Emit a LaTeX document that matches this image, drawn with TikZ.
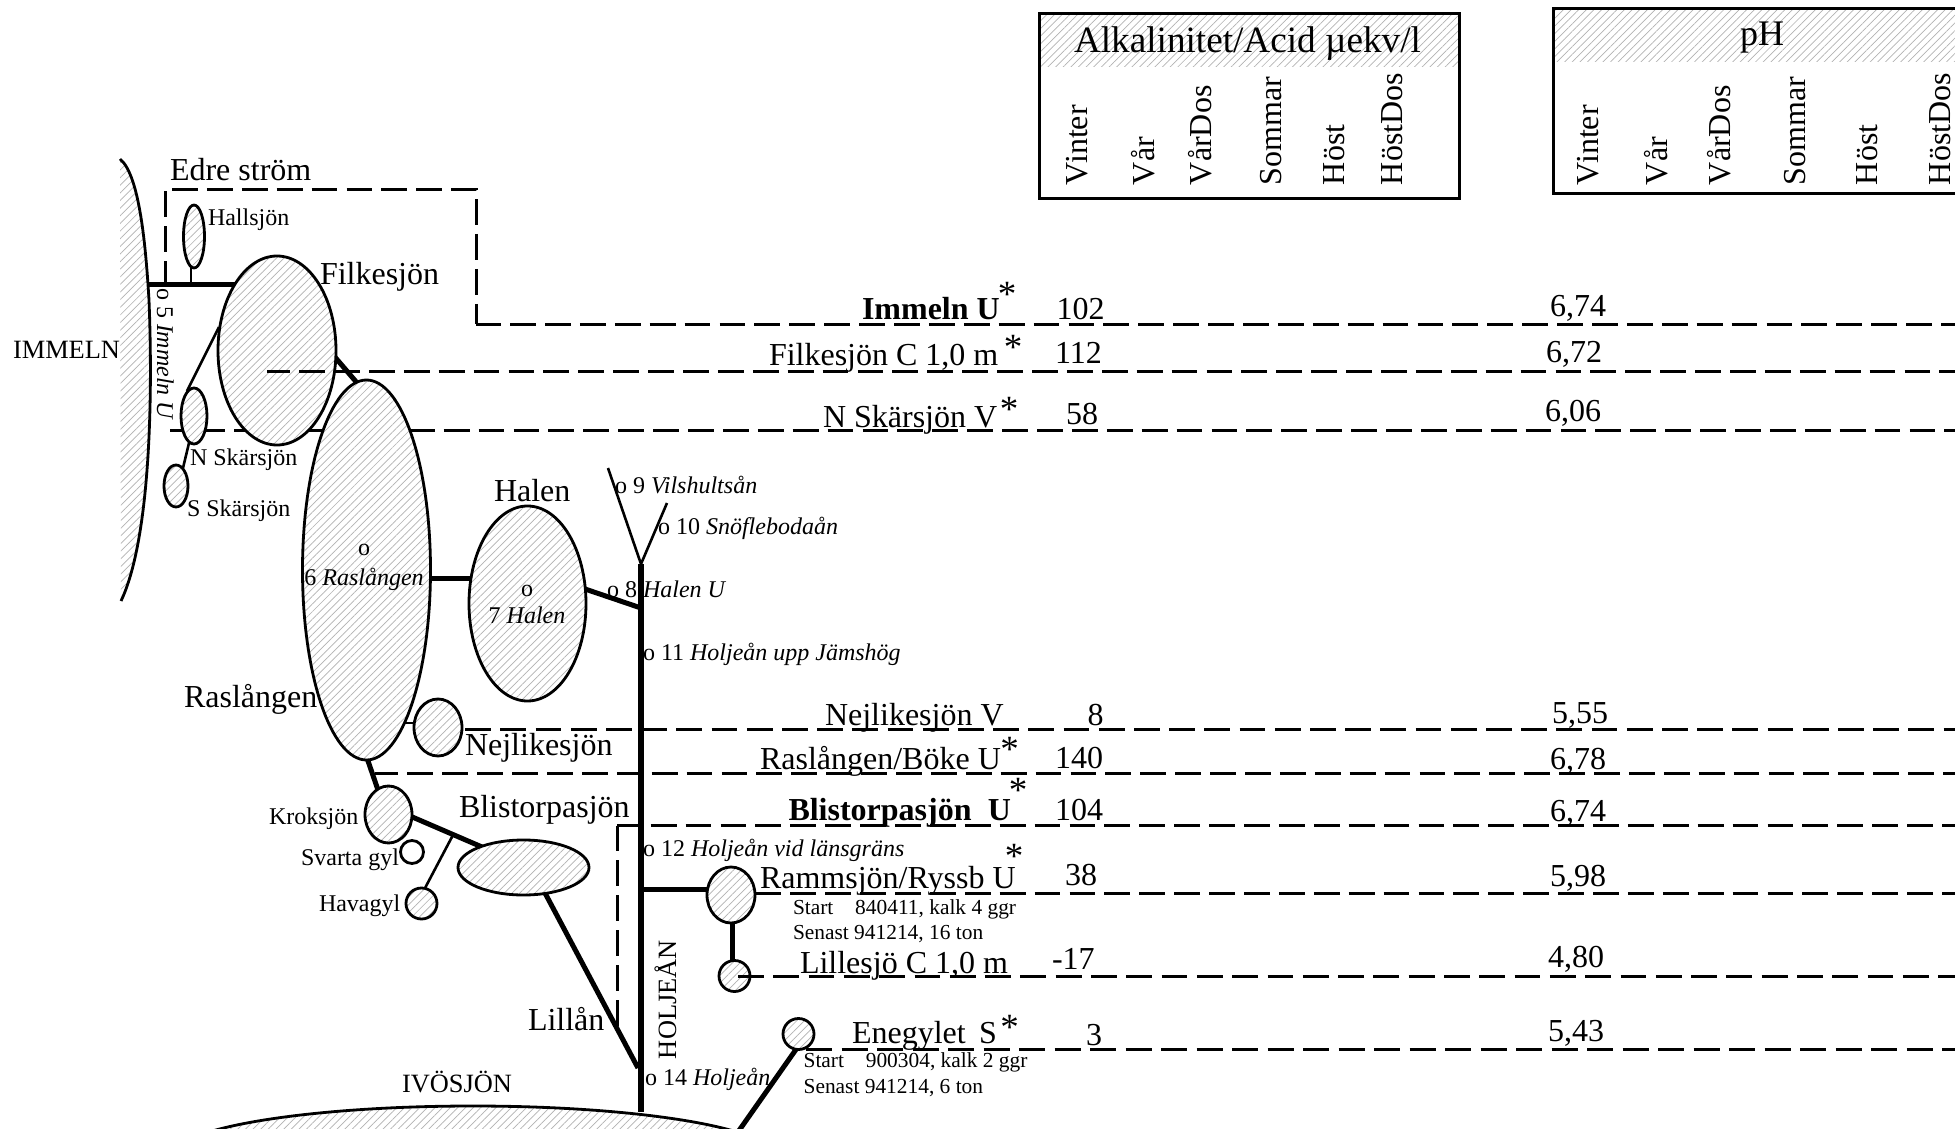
\documentclass[tikz,border=0pt]{standalone}
\usepackage{fontspec}
\setmainfont{Liberation Serif}
\usetikzlibrary{patterns.meta,shapes.geometric}
\newcommand{\fsz}[1]{\fontsize{#1}{#1}\selectfont}
\tikzset{
  x=0.5pt,y=-0.5pt,
  hatchfill/.style={pattern={Lines[angle=45,distance=2.7pt,line width=0.35pt,xshift=0.6pt]},pattern color=black!30},
  hatch/.style={preaction={fill=white},hatchfill},
  lake/.style={ellipse,draw,hatch,line width=1.4pt,inner sep=0pt,outer sep=0pt},
  thin line/.style={line width=1.3pt},
  thick line/.style={line width=2.5pt},
  river/.style={line width=2.6pt},
  dash line/.style={line width=1.5pt,dash pattern=on 12.9pt off 4.55pt},
  txt/.style={inner sep=0pt,outer sep=0pt,anchor=base west},
  big/.style={txt,font=\fsz{16}},
  mid/.style={txt,font=\fsz{13.2}},
  small/.style={txt,font=\fsz{12}},
  tiny/.style={txt,font=\fsz{10.7}},
  head/.style={txt,font=\fsz{16},rotate=90},
  star/.style={inner sep=0pt,outer sep=0pt,anchor=center,yshift=-2.4pt,font=\fsz{18.5}},
  frame/.style={line width=1.5pt}
}
% centre x, centre y, half width, half height (in reference pixels)
\newcommand{\lake}[5]{\node[lake,minimum width=#4pt,minimum height=#5pt] (#1) at (#2,#3) {};}
\newcommand{\starat}[3]{\node[star] (#1) at (#2,#3) {*};}
\begin{document}
\begin{tikzpicture}
\useasboundingbox (0,0) rectangle (1955,1129);
\begin{scope}
\clip (0,0) rectangle (1955,1129);

% header boxes
\fill[hatchfill] (1039,14) rectangle (1459,67);
\draw[frame] (1039,14) rectangle (1459,198);
\fill[hatchfill] (1553,9) rectangle (1965,62);
\draw[frame] (1965,9) -- (1553,9) -- (1553,193) -- (1965,193);

% free ends and junctions of the lines
\coordinate (e1a) at (165,283); \coordinate (e1b) at (165,189); \coordinate (e1c) at (476,189);
\coordinate (e1d) at (476,324); \coordinate (e1e) at (1965,324);
\coordinate (e3a) at (170,430); \coordinate (e3b) at (1965,430);
\coordinate (e4a) at (462,729); \coordinate (e4b) at (1965,729);
\coordinate (e5a) at (375,773.5); \coordinate (e5b) at (1965,773.5);
\coordinate (e6a) at (617,1028); \coordinate (e6b) at (617,825.5); \coordinate (e6c) at (1965,825.5);
\coordinate (e7a) at (755,893.5); \coordinate (e7b) at (1965,893.5);
\coordinate (e9a) at (803,1049.5); \coordinate (e9b) at (1965,1049.5);

% dashed lines that lie under the lakes
\draw[dash line,dash phase=1.85pt] (e1a) -- (e1b) -- (e1c) -- (e1d);
\draw[dash line,dash phase=0.4pt] (e1d) -- (e1e);
\draw[dash line,dash phase=2.75pt] (e3a) -- (e3b);
\draw[dash line,dash pattern=on 12.9pt off 4.7pt,dash phase=16pt] (e4a) -- (e4b);
\draw[dash line,dash phase=1.25pt] (e5a) -- (e5b);
\draw[dash line] (e6b) -- (e6a);
\draw[dash line,dash phase=0.6pt] (e6b) -- (e6c);
\draw[dash line,dash phase=17.25pt] (e7a) -- (e7b);
\draw[dash line,dash pattern=on 12.9pt off 4.85pt,dash phase=16.15pt] (e9a) -- (e9b);

% Immeln shore
\path[hatch] (120,159) .. controls (140,175) and (146,250) .. (149,300) .. controls (153,400) and (150,540) .. (121,601) -- cycle;
\draw[line width=1.4pt] (120,159) .. controls (140,175) and (146,250) .. (149,300) .. controls (153,400) and (150,540) .. (121,601);

% Ivosjon
\node[lake,minimum width=301pt,minimum height=50pt] (ivo) at (473,1156) {};

% connector ends
\coordinate (s1) at (148,284); \coordinate (s2) at (235,284);
\coordinate (h1) at (191,268); \coordinate (h2) at (191,284);
\coordinate (f1) at (219,327); \coordinate (n1) at (187,391);
\coordinate (n2) at (189,443); \coordinate (n3) at (183,468);
\coordinate (f2) at (334,356); \coordinate (r1) at (358,384);
\coordinate (r2) at (428,578); \coordinate (ha1) at (470,578);
\coordinate (ha2) at (585,589); \coordinate (j8) at (641,608);
\coordinate (r3) at (367,758); \coordinate (k1) at (378,790);
\coordinate (k2) at (410,816); \coordinate (b1) at (482,847);
\coordinate (mid) at (453,835); \coordinate (hv) at (424,890);
\coordinate (b2) at (545,893); \coordinate (j14) at (638,1068);
\coordinate (j9) at (641,564); \coordinate (b9) at (608,468); \coordinate (b10) at (667,503);
\coordinate (rb) at (641,1112);
\coordinate (j12) at (641,889); \coordinate (ra1) at (709,889);
\coordinate (ra2) at (732,921); \coordinate (li1) at (732,963);
\coordinate (en1) at (797,1048); \coordinate (iv1) at (738,1132);
\coordinate (r4) at (403,723); \coordinate (ne1) at (416,723);

% connectors
\draw[thick line] (s1) -- (s2);
\draw[thin line] (h1) -- (h2);
\draw[thin line] (f1) -- (n1);
\draw[thin line] (n2) -- (n3);
\draw[thick line] (f2) -- (r1);
\draw[thick line] (r2) -- (ha1);
\draw[thick line] (ha2) -- (j8);
\draw[thick line] (r3) -- (k1);
\draw[thick line] (k2) -- (b1);
\draw[thin line] (mid) -- (hv);
\draw[thick line] (b2) -- (j14);
\draw[thin line] (b9) -- (j9) -- (b10);
\draw[river] (j9) -- (rb);
\draw[thick line] (j12) -- (ra1);
\draw[thick line] (ra2) -- (li1);
\draw[thick line] (en1) -- (iv1);
\draw[thin line] (r4) -- (ne1);

% lakes
\lake{hall}{194}{236.5}{10.5}{31.5}
\lake{fil}{277}{350.5}{59}{94.5}
\lake{nsk}{194}{416}{13}{28}
\lake{ssk}{176}{486}{12}{21}
\lake{ras}{366.5}{570}{64}{190}
\lake{hal}{527.5}{603.5}{58.5}{97.5}
\lake{nej}{438}{727.5}{24}{28.5}
\lake{kro}{388.5}{814.5}{23.5}{28.5}
\lake{hav}{421.5}{903.5}{15.5}{15.5}
\node[ellipse,draw,line width=1.4pt,fill=white,inner sep=0pt,minimum width=11.5pt,minimum height=11.5pt] (sva) at (412,852) {};
\lake{bli}{523.5}{867.5}{65.5}{27.5}
\lake{ram}{731}{895}{24}{28}
\lake{lil}{734.5}{976}{15.5}{15.5}
\lake{ene}{798.5}{1034}{15.5}{15.5}

% dashed lines that lie over the lakes
\coordinate (e2a) at (267,371); \coordinate (e2b) at (1965,371);
\coordinate (e8a) at (738,976); \coordinate (e8b) at (1965,976);
\draw[dash line,dash phase=1.4pt] (e2a) -- (e2b);
\draw[dash line,dash pattern=on 12.9pt off 4.75pt] (e8a) -- (e8b);

% headers
\node[txt,font=\fsz{18.6}] (t1) at (1074,53) {Alkalinitet/Acid µekv/l};
\node[txt,font=\fsz{18}] (t2) at (1740,46) {pH};
\node[head] (a1) at (1087,185) {Vinter};
\node[head] (a2) at (1154,185) {Vår};
\node[head] (a3) at (1211,185) {VårDos};
\node[head] (a4) at (1281,185) {Sommar};
\node[head] (a5) at (1344,185) {Höst};
\node[head] (a6) at (1402,185) {HöstDos};
\node[head] (p1) at (1598,185) {Vinter};
\node[head] (p2) at (1667,185) {Vår};
\node[head] (p3) at (1730,185) {VårDos};
\node[head] (p4) at (1805,185) {Sommar};
\node[head] (p5) at (1877,185) {Höst};
\node[head] (p6) at (1950,185) {HöstDos};

% lake names
\node[big] (l1) at (170,180) {Edre ström};
\node[small] (l2) at (208,225) {Hallsjön};
\node[big] (l3) at (320,284) {Filkesjön};
\node[mid] (l4) at (13,358) {IMMELN};
\node[small,rotate=-90] (l5) at (157,288) {o 5 \textit{Immeln U}};
\node[small] (l6) at (190,465) {N Skärsjön};
\node[small] (l7) at (187,516) {S Skärsjön};
\node[big] (l8) at (494,501) {Halen};
\node[small] (l9) at (615,493) {o 9 \textit{Vilshultsån}};
\node[small] (l10) at (658,534) {o 10 \textit{Snöflebodaån}};
\node[small] (l11) at (607,597) {o 8 \textit{Halen U}};
\node[small] (l12) at (643,660) {o 11 \textit{Holjeån upp Jämshög}};
\node[small,anchor=base] (l13) at (364,555) {o};
\node[small,anchor=base] (l14) at (364,585) {6 \textit{Raslången}};
\node[small,anchor=base] (l15) at (527,596) {o};
\node[small,anchor=base] (l16) at (527,623) {7 \textit{Halen}};
\node[big] (l17) at (184,707) {Raslången};
\node[big] (l18) at (465,755) {Nejlikesjön};
\node[small] (l19) at (269,824) {Kroksjön};
\node[small] (l20) at (301,865) {Svarta gyl};
\node[small] (l21) at (319,911) {Havagyl};
\node[big] (l22) at (459,817) {Blistorpasjön};
\node[big] (l23) at (528,1030) {Lillån};
\node[mid] (l24) at (402,1092) {IVÖSJÖN};
\node[small] (l25) at (643,856) {o 12 \textit{Holjeån vid länsgräns}};
\node[small] (l26) at (645,1085) {o 14 \textit{Holjeån}};
\node[mid,rotate=90] (l27) at (676,1059) {HOLJEÅN};

% station rows
\node[big,font=\fsz{16}\bfseries] (s01) at (862,319) {Immeln U};
\starat{x01}{1007}{290}
\node[big] (v01) at (1056.5,319) {102};
\node[big] (q01) at (1550,316.5) {6,74};
\node[big] (s02) at (769,365) {Filkesjön C 1,0 m};
\starat{x02}{1013}{343}
\node[big] (v02) at (1055,363) {112};
\node[big] (q02) at (1546,362) {6,72};
\node[big] (s03) at (823,427) {N Skärsjön V};
\starat{x03}{1009}{405}
\node[big] (v03) at (1066,424) {58};
\node[big] (q03) at (1545,421) {6,06};
\node[big] (s04) at (825,725) {Nejlikesjön V};
\node[big] (v04) at (1087.5,725) {8};
\node[big] (q04) at (1552,723) {5,55};
\node[big] (s05) at (760,769) {Raslången/Böke U};
\starat{x05}{1009.5}{745}
\node[big] (v05) at (1055,768) {140};
\node[big] (q05) at (1550,769) {6,78};
\node[big,font=\fsz{16}\bfseries] (s06) at (788.5,820) {Blistorpasjön\hspace{5.5pt}\,U};
\starat{x06}{1018}{786}
\node[big] (v06) at (1055,820) {104};
\node[big] (q06) at (1550,821) {6,74};
\node[big] (s07) at (760,888) {Rammsjön/Ryssb U};
\starat{x07}{1014}{852}
\node[big] (v07) at (1065,885) {38};
\node[big] (q07) at (1550,886) {5,98};
\node[tiny] (d1) at (793,914) {Start\hspace{10.9pt}840411, kalk 4 ggr};
\node[tiny] (d2) at (793,939) {Senast 941214, 16 ton};
\node[big] (s08) at (800,973) {Lillesjö C 1,0 m};
\node[big] (v08) at (1052,969) {-17};
\node[big] (q08) at (1548,967) {4,80};
\node[big] (s09) at (852,1043) {Enegylet\hspace{4pt}\,S};
\starat{x09}{1009.5}{1023}
\node[big] (v09) at (1086,1045) {3};
\node[big] (q09) at (1548,1041.5) {5,43};
\node[tiny] (d3) at (803.6,1067) {Start\hspace{10.9pt}900304, kalk 2 ggr};
\node[tiny] (d4) at (803.6,1093) {Senast 941214, 6 ton};
\end{scope}
\end{tikzpicture}
\end{document}
